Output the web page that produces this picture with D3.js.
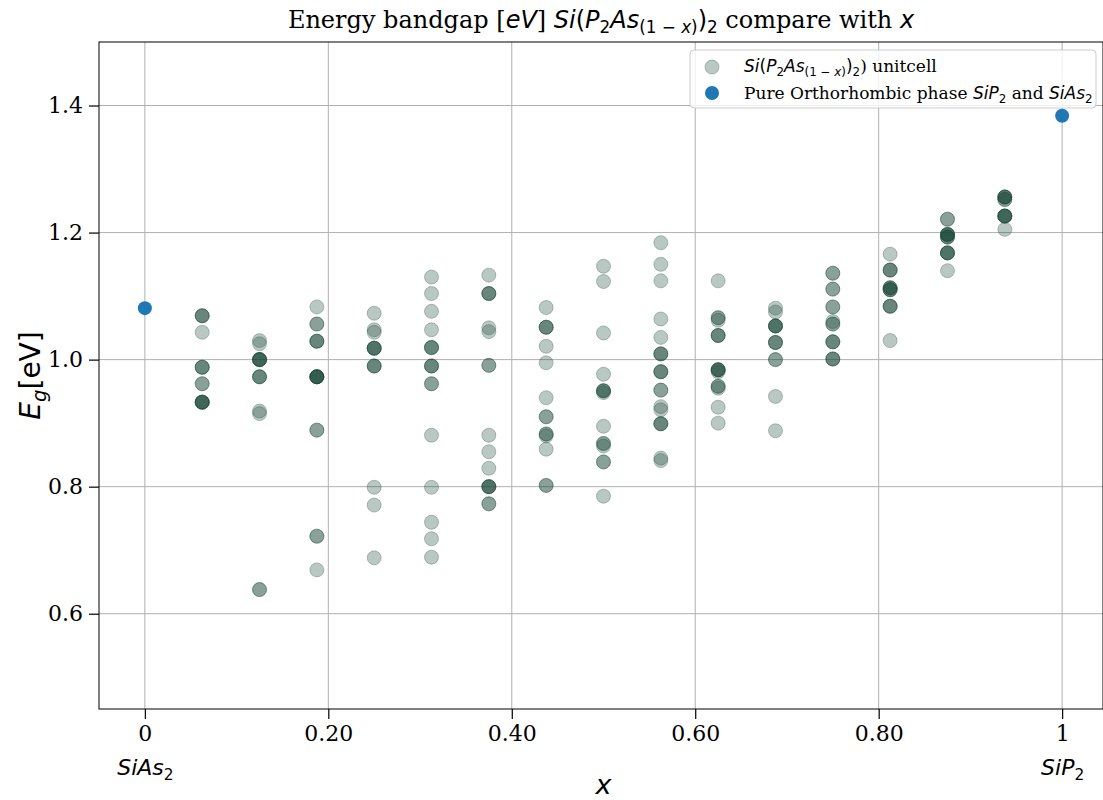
<!DOCTYPE html>
<html>
<head>
<meta charset="utf-8">
<script src="https://cdn.jsdelivr.net/npm/d3@7"></script>
<style>
  body { margin: 0; background: #fff; }
</style>
</head>
<body>
<svg id="drawing_region"></svg>
<script>
// x = P fraction of each unitcell column (multiples of 1/16)
const columnX = [0.0625, 0.125, 0.1875, 0.25, 0.3125, 0.375, 0.4375, 0.5,
                 0.5625, 0.625, 0.6875, 0.75, 0.8125, 0.875, 0.9375];

// band gaps of every unitcell configuration, one array per column
// (repeated values are configurations that fall on top of each other)
const egX0625 = [1.069, 1.069, 1.069, 1.043, 0.988, 0.988, 0.988, 0.962, 0.962,
                 0.933, 0.933, 0.933, 0.933, 0.933];
const egX1250 = [1.030, 1.025, 1.000, 1.000, 1.000, 1.000, 1.000, 0.973, 0.973, 0.973,
                 0.919, 0.915, 0.638, 0.638];
const egX1875 = [1.083, 1.056, 1.056, 1.029, 1.029, 1.029, 0.973, 0.973, 0.973, 0.973,
                 0.973, 0.973, 0.889, 0.889, 0.722, 0.722, 0.669];
const egX2500 = [1.073, 1.047, 1.043, 1.018, 1.018, 1.018, 1.018, 0.990, 0.990, 0.990,
                 0.799, 0.771, 0.688];
const egX3125 = [1.130, 1.104, 1.076, 1.047, 1.019, 1.019, 1.019, 0.990, 0.990, 0.990,
                 0.962, 0.962, 0.881, 0.799, 0.744, 0.718, 0.689];
const egX3750 = [1.133, 1.104, 1.104, 1.104, 1.050, 1.044, 0.991, 0.991, 0.881, 0.855,
                 0.829, 0.800, 0.800, 0.800, 0.800, 0.773, 0.773];
const egX4375 = [1.082, 1.051, 1.051, 1.051, 1.021, 0.995, 0.940, 0.910, 0.910, 0.883,
                 0.883, 0.880, 0.859, 0.802, 0.802];
const egX5000 = [1.147, 1.123, 1.042, 0.977, 0.951, 0.951, 0.951, 0.948, 0.895, 0.868,
                 0.868, 0.864, 0.839, 0.839, 0.785];
const egX5625 = [1.184, 1.150, 1.124, 1.064, 1.035, 1.009, 1.009, 1.009, 0.981, 0.981,
                 0.981, 0.952, 0.952, 0.926, 0.921, 0.899, 0.899, 0.899, 0.845, 0.841];
const egX6250 = [1.124, 1.066, 1.066, 1.062, 1.038, 1.038, 1.038, 0.984, 0.984, 0.984,
                 0.984, 0.981, 0.958, 0.958, 0.955, 0.925, 0.900];
const egX6875 = [1.081, 1.075, 1.053, 1.053, 1.053, 1.053, 1.027, 1.027, 1.027, 1.000,
                 1.000, 0.942, 0.888];
const egX7500 = [1.136, 1.136, 1.111, 1.111, 1.083, 1.083, 1.060, 1.056, 1.056, 1.028,
                 1.028, 1.028, 1.001, 1.001, 1.001];
const egX8125 = [1.166, 1.141, 1.141, 1.141, 1.113, 1.113, 1.113, 1.110, 1.110, 1.110,
                 1.084, 1.084, 1.084, 1.030];
const egX8750 = [1.221, 1.221, 1.197, 1.197, 1.197, 1.197, 1.193, 1.193, 1.193, 1.168,
                 1.168, 1.168, 1.168, 1.140];
const egX9375 = [1.256, 1.256, 1.256, 1.256, 1.252, 1.252, 1.226, 1.226, 1.226, 1.226,
                 1.226, 1.205];
const unitcellEg = [egX0625, egX1250, egX1875, egX2500, egX3125, egX3750, egX4375, egX5000,
                    egX5625, egX6250, egX6875, egX7500, egX8125, egX8750, egX9375];

// pure orthorhombic SiAs2 (x=0) and SiP2 (x=1)
const pureX = [0, 1];
const pureEg = [1.081, 1.384];

const xTicks = [0, 0.2, 0.4, 0.6, 0.8, 1];
const xTickLabels = ['0', '0.20', '0.40', '0.60', '0.80', '1'];
const xTickNames = ['SiAs', '', '', '', '', 'SiP'];
const yTicks = [0.6, 0.8, 1.0, 1.2, 1.4];

// flat point list for the scatter
const unitcellPoints = [];
columnX.forEach((x, i) => unitcellEg[i].forEach(eg => unitcellPoints.push({ x: x, eg: eg })));
const purePoints = pureX.map((x, i) => ({ x: x, eg: pureEg[i] }));

const config = {
  width: 1103,
  height: 800,
  margin: { top: 42, right: 0, bottom: 91, left: 99 }
};

const SERIF = "'DejaVu Serif', serif";
const SANS = "'DejaVu Sans', sans-serif";
const unitColor = '#1b4a37';
const pureColor = '#1f77b4';

// draw text made of roman / math-italic / subscript pieces into a <text>
// kinds: r = serif roman, i = math italic, u = math upright, s = subscript, si = italic subscript
function richText(text, parts, size) {
  let cur = 0;
  parts.forEach(([str, kind]) => {
    const sub = kind === 's' || kind === 'si';
    const target = sub ? size * 0.22 : 0;
    text.append('tspan')
      .attr('dy', target - cur)
      .attr('font-family', kind === 'r' ? SERIF : SANS)
      .attr('font-style', (kind === 'i' || kind === 'si') ? 'italic' : 'normal')
      .attr('font-size', sub ? size * 0.7 : size)
      .text(str);
    cur = target;
  });
}

const svg = d3.select('#drawing_region')
  .attr('width', config.width)
  .attr('height', config.height);

const innerW = config.width - config.margin.left - config.margin.right;
const innerH = config.height - config.margin.top - config.margin.bottom;

const chart = svg.append('g')
  .attr('transform', `translate(${config.margin.left}, ${config.margin.top})`);

const xscale = d3.scaleLinear().domain([-0.05, 1.05]).range([0, innerW + 5]);
const yscale = d3.scaleLinear().domain([0.45, 1.5]).range([innerH, 0]);

// grid
chart.append('g')
  .selectAll('line.vgrid')
  .data(xTicks)
  .join('line')
  .attr('x1', d => xscale(d)).attr('x2', d => xscale(d))
  .attr('y1', 0).attr('y2', innerH)
  .attr('stroke', '#b0b0b0').attr('stroke-width', 1);
chart.append('g')
  .selectAll('line.hgrid')
  .data(yTicks)
  .join('line')
  .attr('x1', 0).attr('x2', innerW)
  .attr('y1', d => yscale(d)).attr('y2', d => yscale(d))
  .attr('stroke', '#b0b0b0').attr('stroke-width', 1);

// scatter: unitcells (translucent, so stacked configurations darken)
chart.append('g')
  .selectAll('circle')
  .data(unitcellPoints)
  .join('circle')
  .attr('cx', d => xscale(d.x))
  .attr('cy', d => yscale(d.eg))
  .attr('r', 7)
  .attr('fill', unitColor)
  .attr('fill-opacity', 0.3)
  .attr('stroke', unitColor)
  .attr('stroke-opacity', 0.3)
  .attr('stroke-width', 1);

chart.append('g')
  .selectAll('circle')
  .data(purePoints)
  .join('circle')
  .attr('cx', d => xscale(d.x))
  .attr('cy', d => yscale(d.eg))
  .attr('r', 7)
  .attr('fill', pureColor);

// frame
chart.append('rect')
  .attr('width', innerW).attr('height', innerH)
  .attr('fill', 'none').attr('stroke', '#000').attr('stroke-width', 1);

// axes
const xaxis = d3.axisBottom(xscale)
  .tickValues(xTicks)
  .tickFormat((d, i) => xTickLabels[i])
  .tickSize(10)
  .tickPadding(6)
  .tickSizeOuter(0);
const yaxis = d3.axisLeft(yscale)
  .tickValues(yTicks)
  .tickFormat(d3.format('.1f'))
  .tickSize(10)
  .tickPadding(6)
  .tickSizeOuter(0);

const xg = chart.append('g')
  .attr('transform', `translate(0, ${innerH})`)
  .call(xaxis);
xg.select('.domain').remove();
xg.selectAll('.tick text')
  .attr('font-family', SERIF).attr('font-size', 22).attr('fill', '#000');
xg.selectAll('.tick line').attr('stroke', '#000').attr('stroke-width', 1.2);
xg.selectAll('.tick').each(function(d, i) {
  if (!xTickNames[i]) return;
  const t = d3.select(this).append('text')
    .attr('y', 66)
    .attr('text-anchor', 'middle')
    .attr('fill', '#000');
  richText(t, [[xTickNames[i], 'i'], ['2', 's']], 22);
});

const yg = chart.append('g').call(yaxis);
yg.select('.domain').remove();
yg.selectAll('.tick text')
  .attr('font-family', SERIF).attr('font-size', 22).attr('fill', '#000');
yg.selectAll('.tick line').attr('stroke', '#000').attr('stroke-width', 1.2);

// axis labels
svg.append('text')
  .attr('x', xscale(0.5) + config.margin.left)
  .attr('y', 794)
  .attr('text-anchor', 'middle')
  .attr('font-family', SANS)
  .attr('font-style', 'italic')
  .attr('font-size', 27)
  .text('x');

const ylab = svg.append('text')
  .attr('transform', `translate(40, ${config.margin.top + innerH / 2}) rotate(-90)`)
  .attr('text-anchor', 'middle');
richText(ylab, [['E', 'i'], ['g', 'si'], ['[eV]', 'u']], 28);

// title
const title = svg.append('text')
  .attr('x', config.margin.left + innerW / 2)
  .attr('y', 28)
  .attr('text-anchor', 'middle');
richText(title, [
  ['Energy bandgap [', 'r'], ['eV', 'i'], ['] ', 'r'], ['Si', 'i'], ['(', 'u'], ['P', 'i'],
  ['2', 's'], ['As', 'i'], ['(1 − ', 's'], ['x', 'si'], [')', 's'], [')', 'u'], ['2', 's'],
  [' compare with ', 'r'], ['x', 'i']
], 24);

// legend
const legend = svg.append('g').attr('transform', 'translate(690, 50)');
legend.append('rect')
  .attr('width', 406).attr('height', 58).attr('rx', 4)
  .attr('fill', '#fff').attr('fill-opacity', 0.8)
  .attr('stroke', '#cccccc').attr('stroke-width', 1);
legend.append('circle')
  .attr('cx', 22).attr('cy', 17).attr('r', 7)
  .attr('fill', unitColor).attr('fill-opacity', 0.3)
  .attr('stroke', unitColor).attr('stroke-opacity', 0.3);
legend.append('circle')
  .attr('cx', 22).attr('cy', 43).attr('r', 7)
  .attr('fill', pureColor);
const l1 = legend.append('text').attr('x', 54).attr('y', 22);
richText(l1, [
  ['Si', 'i'], ['(', 'u'], ['P', 'i'], ['2', 's'], ['As', 'i'], ['(1 − ', 's'], ['x', 'si'],
  [')', 's'], [')', 'u'], ['2', 's'], [')', 'r'], [' unitcell', 'r']
], 17);
const l2 = legend.append('text').attr('x', 54).attr('y', 49);
richText(l2, [
  ['Pure Orthorhombic phase ', 'r'], ['SiP', 'i'], ['2', 's'], [' and ', 'r'],
  ['SiAs', 'i'], ['2', 's']
], 17);
</script>
</body>
</html>
